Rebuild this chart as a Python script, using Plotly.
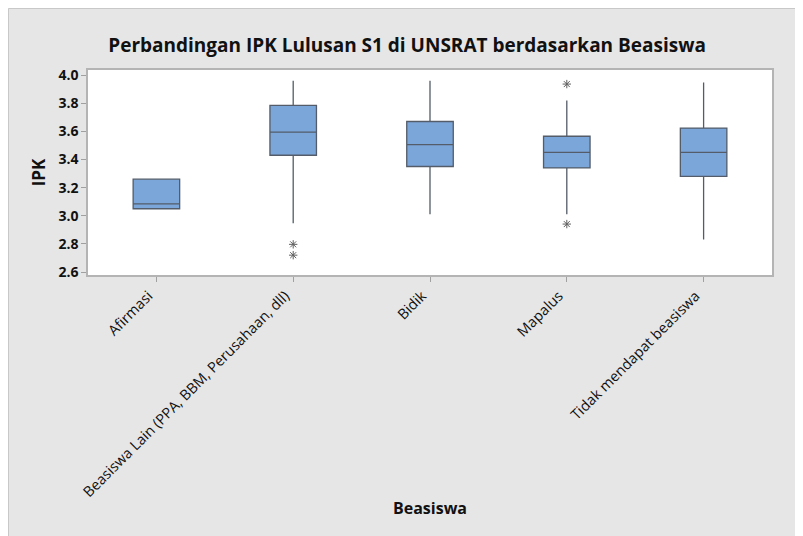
import plotly.graph_objects as go

categories = ["Afirmasi", "Beasiswa Lain (PPA, BBM, Perusahaan, dll)", "Bidik", "Mapalus", "Tidak mendapat beasiswa"]
q1 = [3.05, 3.43, 3.35, 3.34, 3.28]
median = [3.085, 3.595, 3.505, 3.45, 3.45]
q3 = [3.26, 3.785, 3.67, 3.565, 3.623]
lowerfence = [3.05, 2.946, 3.01, 3.01, 2.832]
upperfence = [3.26, 3.96, 3.96, 3.82, 3.948]
outlier_cat = ["Beasiswa Lain (PPA, BBM, Perusahaan, dll)", "Beasiswa Lain (PPA, BBM, Perusahaan, dll)", "Mapalus", "Mapalus"]
outlier_val = [2.797, 2.72, 3.936, 2.941]
y_ticks = [2.6, 2.8, 3.0, 3.2, 3.4, 3.6, 3.8, 4.0]

FONT = "Open Sans"
W, H = 795, 528
ML, MR, MT, MB = 80, 31, 62, 261
PW, PH = W - ML - MR, H - MT - MB

def px2x(px):
    return (px - ML) / PW

def px2y(py):
    return (H - MB - py) / PH

fig = go.Figure()
fig.add_trace(go.Box(
    x=categories, q1=q1, median=median, q3=q3,
    lowerfence=lowerfence, upperfence=upperfence,
    fillcolor="#7ba6da", line=dict(color="#535c68", width=1.3),
    whiskerwidth=0, width=0.34, boxpoints=False, showlegend=False,
    hoverinfo="skip",
))
fig.add_trace(go.Scatter(
    x=outlier_cat, y=outlier_val, mode="markers",
    marker=dict(symbol="asterisk-open", size=7, color="#606060",
                line=dict(color="#606060", width=1)),
    showlegend=False, hoverinfo="skip",
))

shapes = [
    dict(type="line", xref="paper", yref="paper", layer="below",
         x0=px2x(0.5), x1=px2x(W), y0=px2y(0.5), y1=px2y(0.5),
         line=dict(color="#c8c8c8", width=1)),
    dict(type="line", xref="paper", yref="paper", layer="below",
         x0=px2x(0.5), x1=px2x(0.5), y0=px2y(0.5), y1=px2y(H),
         line=dict(color="#c8c8c8", width=1)),
]

fig.update_layout(
    width=W, height=H,
    margin=dict(l=ML, r=MR, t=MT, b=MB, autoexpand=False),
    paper_bgcolor="#e6e6e6", plot_bgcolor="white",
    font=dict(family=FONT, color="#111111"),
    title=dict(text="<b>Perbandingan IPK Lulusan S1 di UNSRAT berdasarkan Beasiswa</b>",
               x=0.502, xanchor="center", y=1 - 37 / H, yanchor="middle",
               font=dict(size=19, family=FONT, color="#111111")),
    shapes=shapes,
    xaxis=dict(
        type="category", categoryorder="array", categoryarray=categories,
        range=[-0.5, 4.5], tickangle=-45, showgrid=False, zeroline=False,
        ticks="outside", ticklen=5, tickcolor="#a0a0a0",
        ticklabelshift=-8,
        showline=True, linecolor="#b4b4b4", linewidth=1.5, mirror=True,
        tickfont=dict(size=14.5, family=FONT, color="#111111"),
        title=dict(text="<b>Beasiswa</b>", standoff=3, font=dict(size=16, family=FONT)),
    ),
    yaxis=dict(
        range=[2.579, 4.036], tickvals=y_ticks, tickformat=".1f",
        showgrid=False, zeroline=False,
        ticks="outside", ticklen=5, tickcolor="#a0a0a0",
        showline=True, linecolor="#b4b4b4", linewidth=1.5, mirror=True,
        tickfont=dict(size=14, family=FONT, color="#111111", weight="bold"),
        title=dict(text="<b>IPK</b>", standoff=8, font=dict(size=17, family=FONT)),
    ),
)
fig.write_html("out.html")
